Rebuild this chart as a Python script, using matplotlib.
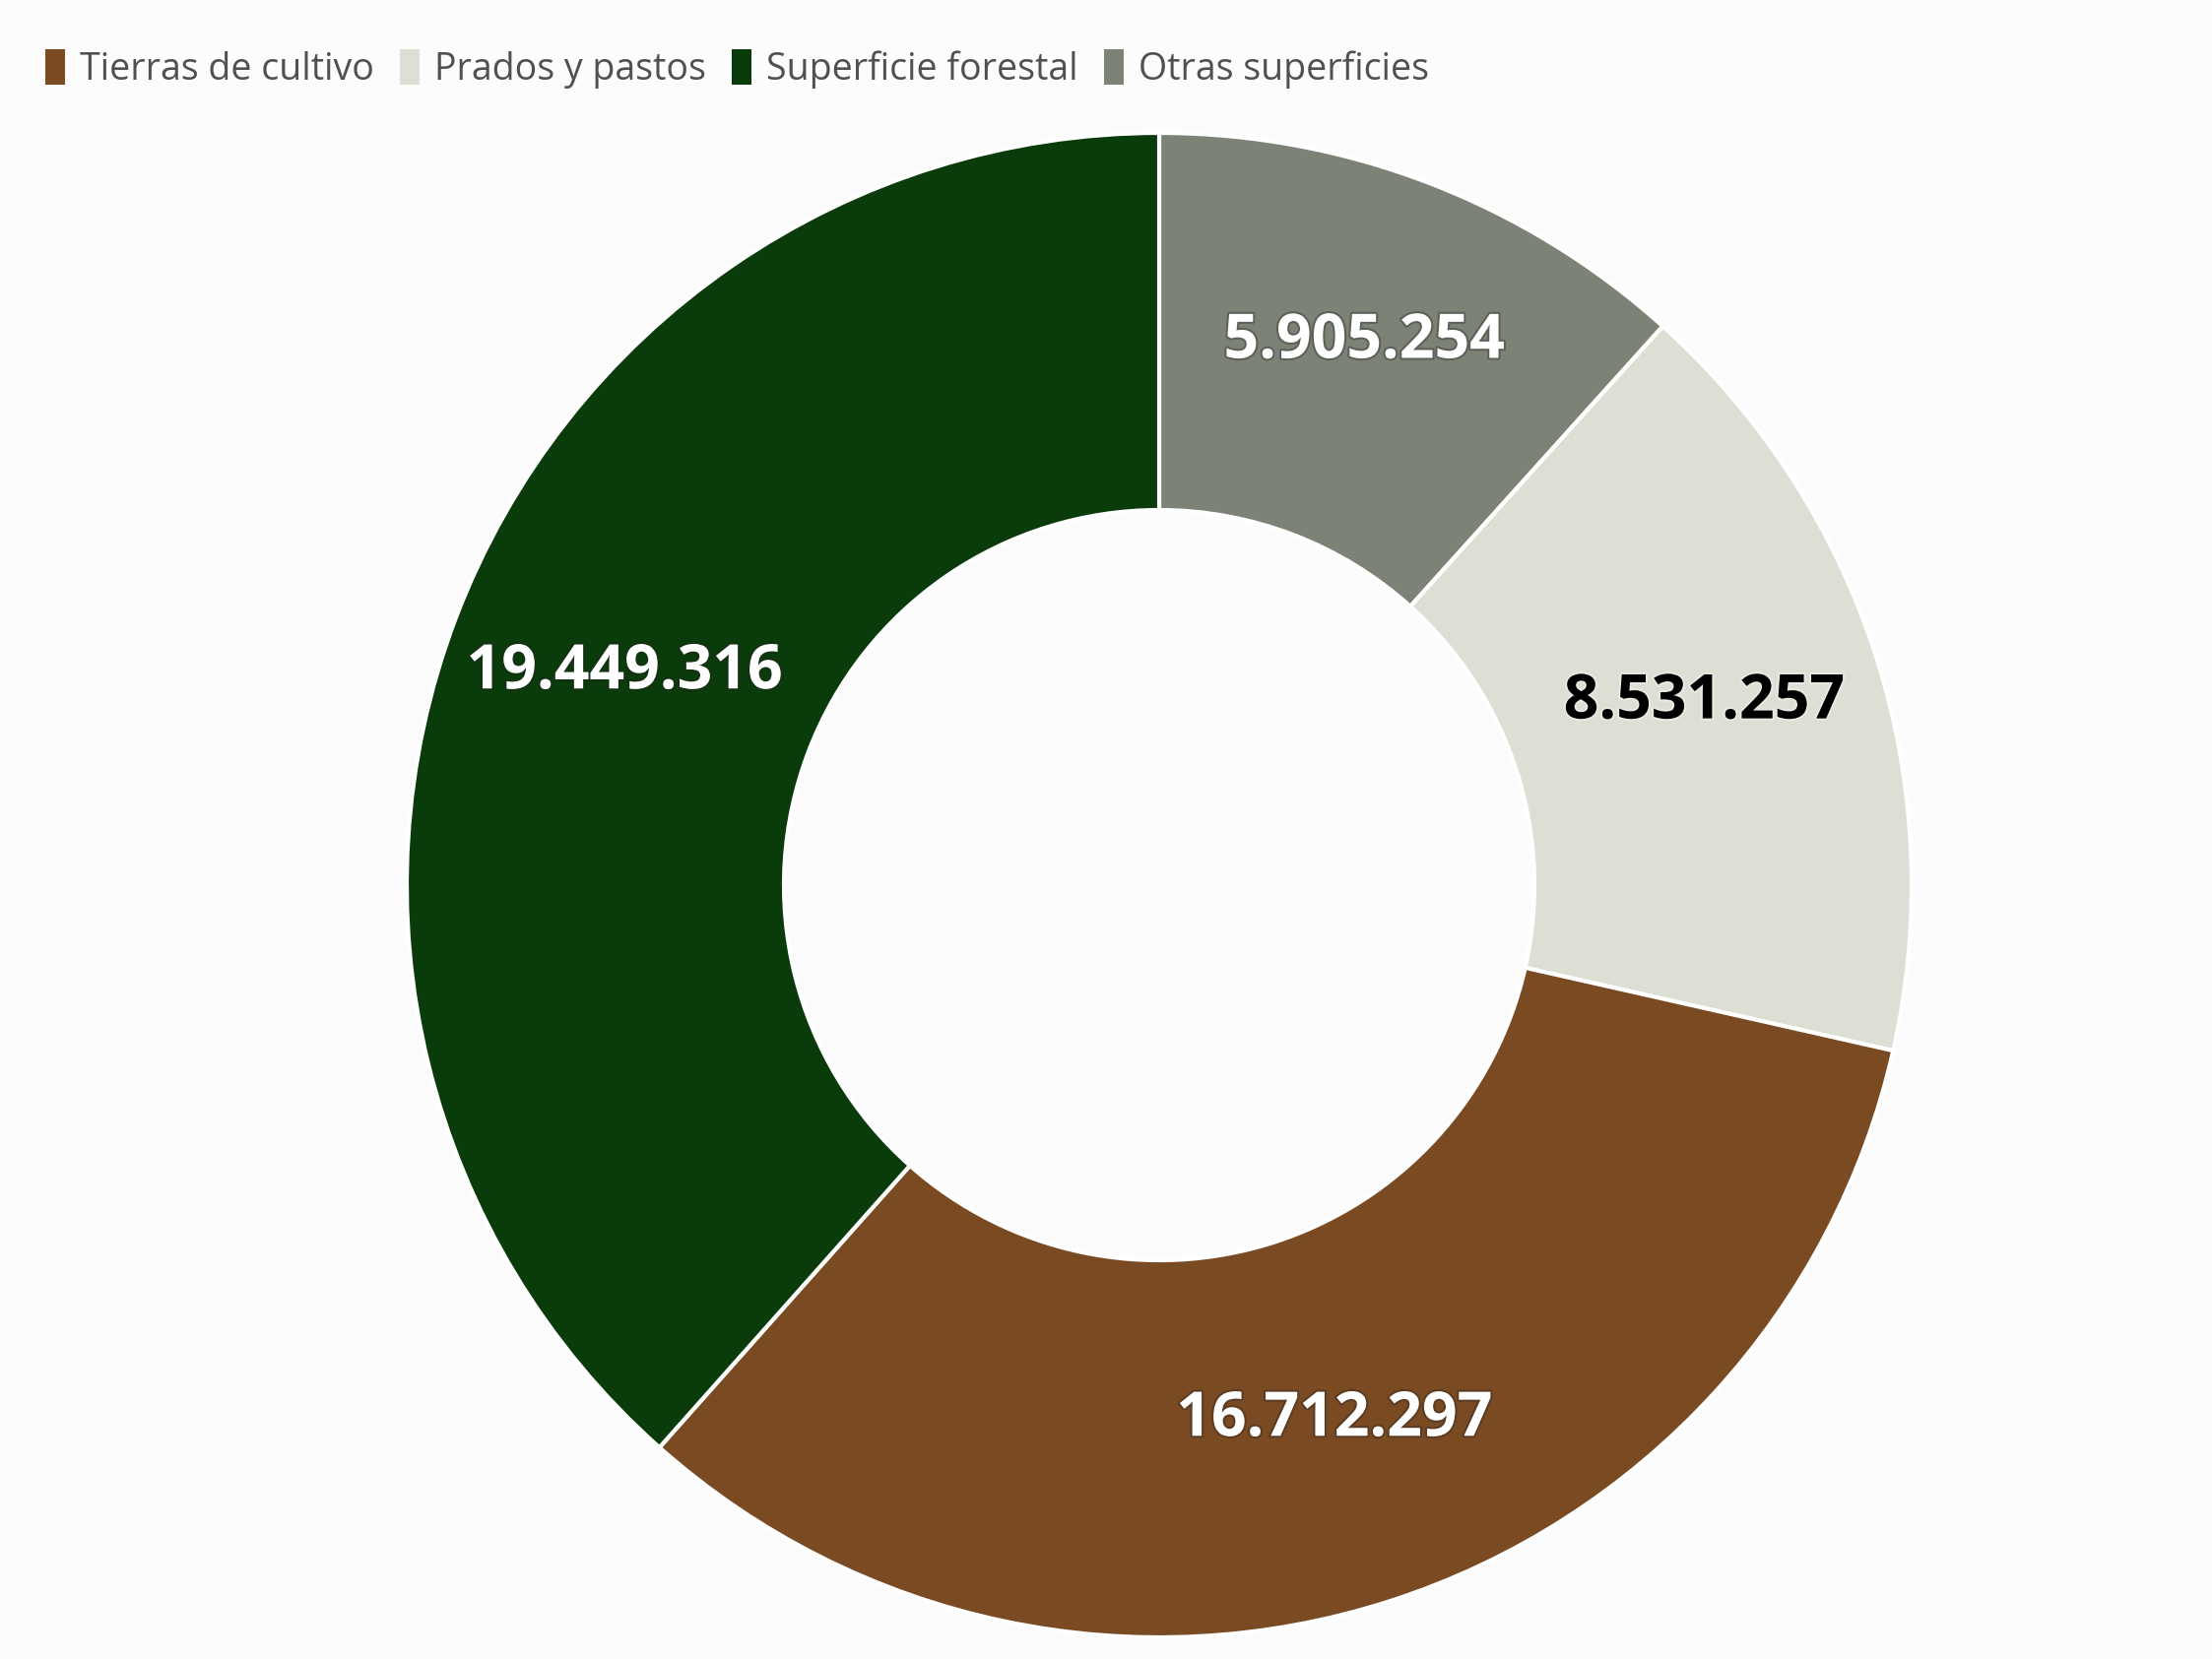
import numpy as np
import matplotlib
matplotlib.use("Agg")
import matplotlib.pyplot as plt
import matplotlib.patheffects as pe

# datos (hectáreas)
categorias = ["Otras superficies", "Prados y pastos", "Tierras de cultivo", "Superficie forestal"]
valores = [5905254, 8531257, 16712297, 19449316]
colores = ["#7c8376", "#dcdfd4", "#7a4a23", "#0a3b0a"]
color_texto = ["white", "black", "white", "white"]
orden_leyenda = ["Tierras de cultivo", "Prados y pastos", "Superficie forestal", "Otras superficies"]

W, H = 2246, 1685
fig = plt.figure(figsize=(W / 100, H / 100), dpi=100, facecolor="#fcfcfc")
ax = fig.add_axes([0, 0, 1, 1])

total = sum(valores)

def fmt(pct):
    v = int(round(pct * total / 100.0))
    return f"{v:,}".replace(",", ".")

wedges, _, autotexts = ax.pie(
    valores, colors=colores, startangle=90, counterclock=False,
    center=(1177, H - 899), radius=764, frame=True,
    autopct=fmt, pctdistance=0.76,
    wedgeprops=dict(width=383, edgecolor="white", linewidth=3),
    textprops=dict(fontsize=45, fontweight="bold", family=["Open Sans", "DejaVu Sans"]),
)
ax.set_xlim(0, W)
ax.set_ylim(0, H)
ax.set_aspect("equal")
ax.axis("off")

for t, c in zip(autotexts, color_texto):
    x, y = t.get_position()
    t.set_position((x, y + 10))   # centrar visualmente los dígitos
    t.set_color(c)
    sombra = "#222222" if c == "white" else "white"
    t.set_path_effects([pe.withStroke(linewidth=3, foreground=sombra, alpha=0.35)])

handles = [wedges[categorias.index(n)] for n in orden_leyenda]
leg = fig.legend(
    handles, orden_leyenda, loc="upper left", bbox_to_anchor=(0.0137, 0.979),
    ncol=4, frameon=False, handlelength=0.55, handleheight=1.1, handletextpad=0.4,
    columnspacing=0.68, borderaxespad=0,
    prop=dict(family=["Open Sans", "DejaVu Sans"], size=27),
)
for txt in leg.get_texts():
    txt.set_color("#505050")
for h in leg.legend_handles:
    h.set_edgecolor("none")

fig.savefig("out.png", dpi=100, facecolor=fig.get_facecolor())
